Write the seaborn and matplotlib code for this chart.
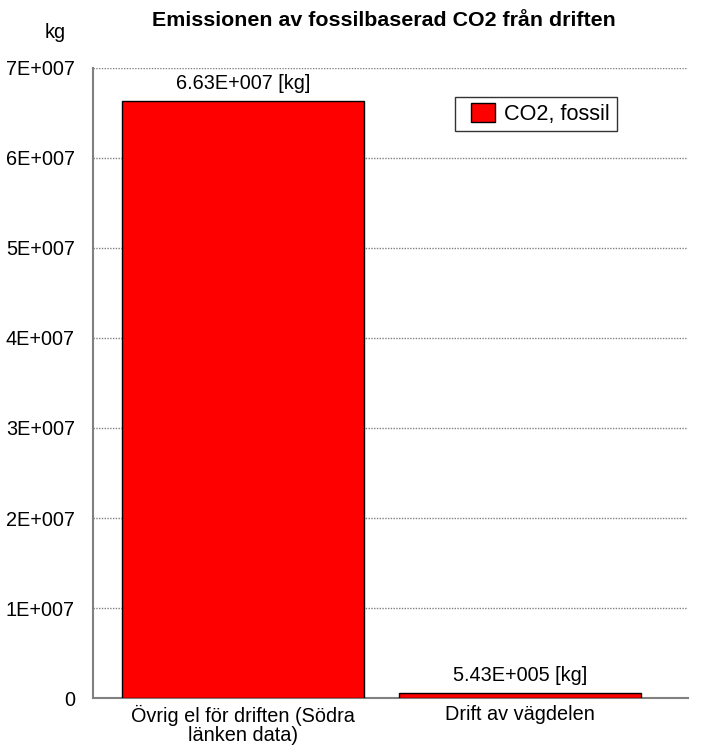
import matplotlib
matplotlib.use("Agg")
import matplotlib.pyplot as plt
import seaborn as sns
import pandas as pd
from matplotlib.patches import Patch, Rectangle

categories = ["Övrig el för driften (Södra\nlänken data)", "Drift av vägdelen"]
values = [6.63e7, 5.43e5]
value_labels = ["6.63E+007 [kg]", "5.43E+005 [kg]"]
series_name = "CO2, fossil"
y_ticks = [0, 1e7, 2e7, 3e7, 4e7, 5e7, 6e7, 7e7]
y_tick_labels = ["0", "1E+007", "2E+007", "3E+007", "4E+007", "5E+007", "6E+007", "7E+007"]

sns.set_style("white")
plt.rcParams["font.family"] = ["Liberation Sans", "DejaVu Sans"]
plt.rcParams["text.color"] = "black"
plt.rcParams["xtick.color"] = "black"
plt.rcParams["ytick.color"] = "black"

df = pd.DataFrame({"kategori": categories, "kg": values})

W, H = 705, 747
fig = plt.figure(figsize=(W / 100, H / 100), dpi=100)
ax = fig.add_axes([93 / W, 49 / H, 595 / W, 630 / H])

sns.barplot(data=df, x="kategori", y="kg", color="#ff0000", saturation=1,
            width=0.874, edgecolor="black", linewidth=1.0, ax=ax, zorder=3)

ax.set_xlim(-0.542, 1.606)
ax.set_ylim(0, 7e7)
ax.set_yticks(y_ticks)
ax.set_yticklabels(y_tick_labels)
ax.grid(axis="y", linestyle=(0, (1, 1)), color="#808080", linewidth=1.0, zorder=0)
ax.tick_params(axis="y", length=5, width=1, color="#808080", direction="out",
               labelsize=14.3, pad=8, labelcolor="black")
ax.tick_params(axis="x", length=0, labelsize=14.3, pad=5, labelcolor="black")
for t in ax.get_xticklabels():
    t.set_linespacing(1.0)
ax.set_xlabel("")
ax.set_ylabel("")

for s in ["top", "right"]:
    ax.spines[s].set_visible(False)
for s in ["left", "bottom"]:
    ax.spines[s].set_color("#808080")
    ax.spines[s].set_linewidth(1.5)

for i, (v, lab) in enumerate(zip(values, value_labels)):
    ax.annotate(lab, xy=(i, v), xytext=(0, 6), textcoords="offset points",
                ha="center", va="bottom", fontsize=14.3, color="black")

fig.text(384 / W, 1 - 20 / H, "Emissionen av fossilbaserad CO2 från driften",
         ha="center", va="center", fontsize=15.4, fontweight="bold", color="black")
fig.text(55 / W, 1 - 33 / H, "kg", ha="center", va="center", fontsize=14.3, color="black")

# legend entry with a separately drawn box around it
handle = Patch(facecolor="#ff0000", edgecolor="black", linewidth=1.0, label=series_name)
ax.legend(handles=[handle], loc="upper left", bbox_to_anchor=(0.635, 0.944),
          borderaxespad=0, fontsize=15.6, frameon=False, borderpad=0,
          handlelength=1.1, handleheight=0.97, handletextpad=0.45)
fig.patches.append(Rectangle((455 / W, 1 - 131 / H), 162 / W, 34 / H,
                             transform=fig.transFigure, fill=False,
                             edgecolor="#333333", linewidth=1.0, zorder=5))

fig.savefig("out.png", dpi=100)
